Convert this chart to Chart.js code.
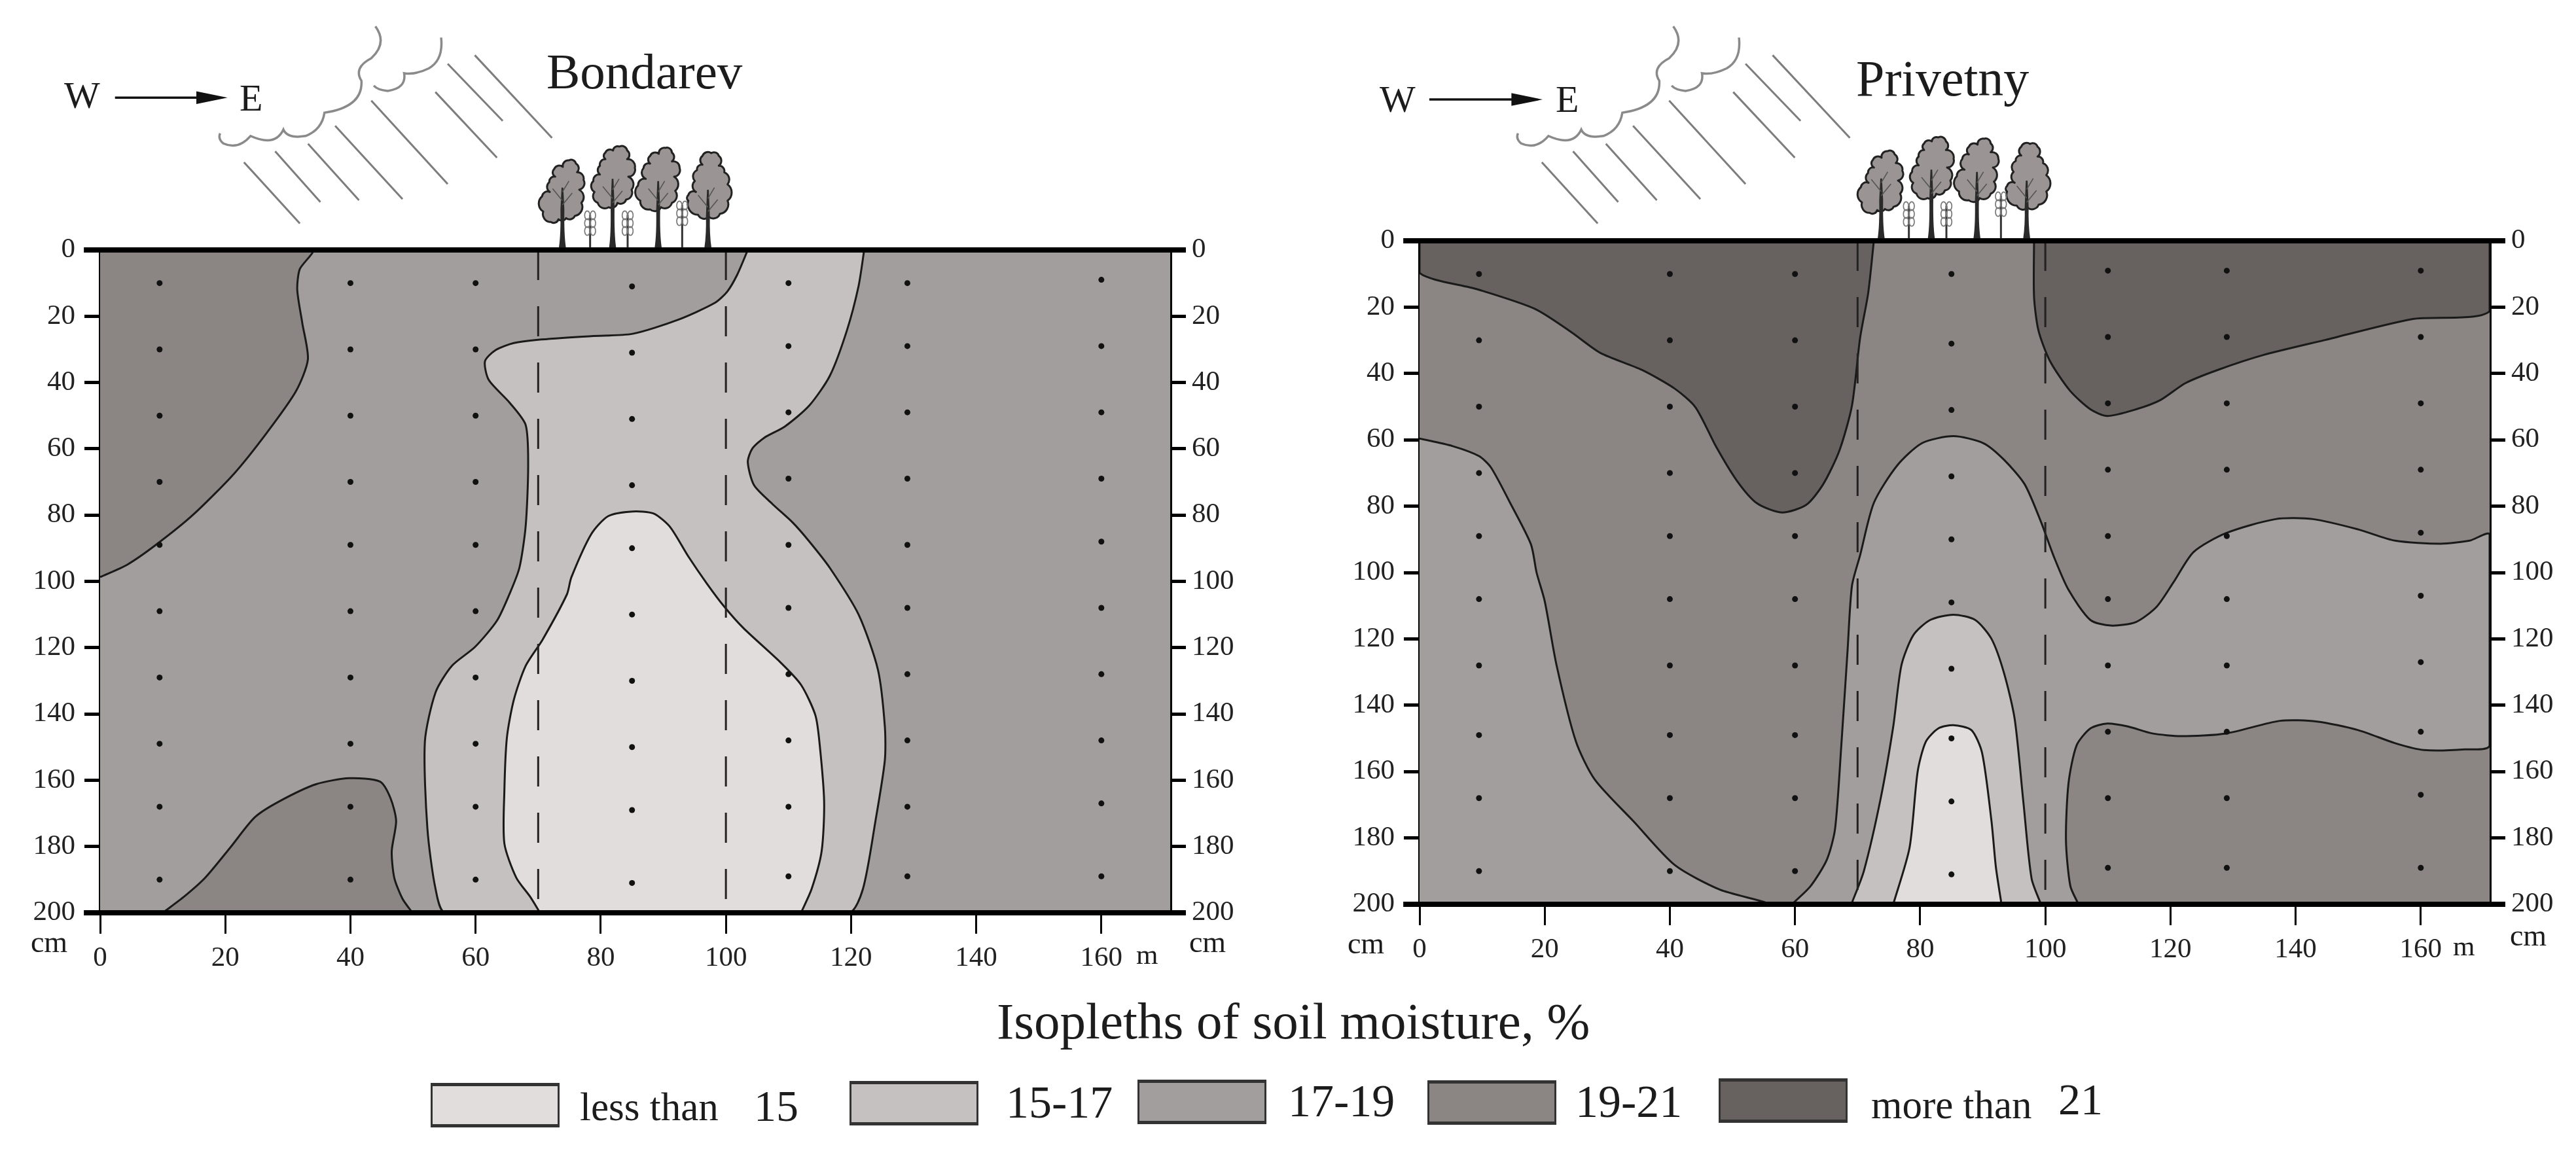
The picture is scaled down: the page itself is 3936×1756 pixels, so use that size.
<!DOCTYPE html>
<html><head><meta charset="utf-8">
<script src="https://cdn.jsdelivr.net/npm/chart.js@4"></script>
<style>
html,body{margin:0;padding:0;background:#fff;width:3936px;height:1756px;overflow:hidden}
canvas,svg.deco{position:absolute}
.t{position:absolute;font-family:"Liberation Serif",serif;color:#1c1c1c;white-space:nowrap;line-height:1;transform:translateY(-50%)}
.box{position:absolute;box-sizing:border-box;border:solid #333;border-width:5px 3px}
</style></head><body>
<canvas id="c1" style="left:0;top:0"></canvas>
<canvas id="c2" style="left:1968px;top:0"></canvas>
<script>
// ---------- categories / axis ticks ----------
const xTicks=[0,20,40,60,80,100,120,140,160];
const depthTicks=[0,20,40,60,80,100,120,140,160,180,200];
const legendLabels=["less than","15-17","17-19","19-21","more than"];
const colLess15="#e2dddd",col15_17="#c6c1c1",col17_19="#a39e9e",col19_21="#8b8584",colMore21="#676260";
const forestEdges=[70,100];
const samplingX=[9.5,40,60,85,110,129,160];

// ---------- Bondarev: isopleth regions [distance m, depth cm] ----------
const bondPlot=[[0,0],[171,0],[171,200],[0,200]];
const bondTop1921=[[0,0],[33.9,0],[31.9,5.8],[31.5,12],[32.3,22],[33.2,33],[31.3,42.6],[26.7,55],[21.4,67.5],[14.8,80],[8.9,89],[4.3,95],[0,98.7]];
const bondBottom1921=[[10,200],[13.5,195],[16.8,189.4],[20.8,180.3],[24.7,171.2],[28.6,166.4],[34.5,161.2],[39.8,159.4],[44.7,160.4],[46.4,165.4],[47.3,172.3],[46.6,181.4],[47,189.4],[48.3,195.7],[49.9,200]];
const bond1517=[[122.1,0],[121.2,10.9],[119.3,24.5],[116.6,38],[113.3,47],[109.4,53.3],[106.1,56.7],[104.2,60],[103.5,64],[104.5,71],[107.4,76.6],[110.7,82.3],[113.3,87.9],[116.6,95.9],[121.2,110],[124.3,126.7],[125.4,143.8],[125.4,154],[123.9,172.3],[121.9,192.8],[119.6,200],[55.2,200],[53.6,192.8],[52.3,174.6],[51.9,148.3],[53.6,133.5],[56.2,125.5],[59.9,119.8],[63.4,111.9],[65.4,103.9],[67,95.9],[68,83.4],[68.4,65.3],[68,52.8],[65.4,46],[62.1,39.2],[61.5,33.6],[63.2,30.2],[66.1,28.1],[70,27.1],[78.5,26],[85.1,25.3],[92.3,21.1],[98.2,16],[100.2,12.6],[101.8,7.5],[103.5,0]];
const bondLess15=[[112,200],[113.7,192.8],[115.3,181.4],[115.7,166.6],[115,149.5],[114.3,140.4],[112,131.2],[108.7,124.4],[102.8,114.1],[99.6,107.3],[96.9,100.5],[94,92.5],[91,83.4],[88.4,79.5],[85.1,78.9],[81.2,80.3],[78.5,85.7],[75.3,98.8],[74.6,103.9],[70.7,117.6],[68,125.5],[66.1,135.8],[65,147.2],[64.6,163.2],[64.6,179.1],[66.5,189.4],[68.7,195.1],[70.3,200]];
const bondDots=[[10,30,50,70,89,109,129,149,168,190],[10,30,50,70,89,109,129,149,168,190],[10,30,50,70,89,109,129,149,168,190],[11,31,51,71,90,110,130,150,169,191],[10,29,49,69,89,108,128,148,168,189],[10,29,49,69,89,108,128,148,168,189],[9,29,49,69,88,108,128,148,167,189]];

// ---------- Privetny: isopleth regions ----------
const privMore21Left=[[0,0],[0,9.7],[9.2,14.6],[18.4,20.5],[24.3,27.6],[28.9,33.8],[35.5,38.9],[40.8,44.6],[44.1,50.2],[47.4,62.1],[50.7,72.3],[53.9,79.1],[57.9,81.9],[61.8,79.6],[64.5,73.4],[67.1,63.2],[69.1,49.7],[70.4,29.3],[71.7,15.7],[72.6,0]];
const privMore21Right=[[98.2,0],[98.2,16.9],[98.9,27],[100.7,36.1],[103.9,45.1],[107.2,50.8],[109.9,52.8],[114.5,50.8],[118.4,48],[122.4,42.9],[127.6,38.9],[134.9,34.4],[144.7,29.9],[158.6,23.6],[171,21.2],[171,0]];
const priv1719Left=[[0,59.6],[5.3,61.9],[9.5,64.9],[11.4,68.3],[14.5,79.1],[17.8,91.5],[18.7,100],[20,108.6],[21.9,128],[25,151],[28,162.4],[34.2,175],[40.8,188.2],[48,195.6],[55.3,199.8],[0,200]];
const priv1719Main=[[59.5,200],[62.5,194.5],[65.1,186.5],[66.4,177.3],[67.4,152.1],[68.4,123.5],[69.1,104],[70.4,94.8],[72.6,79],[76.3,67.8],[80.3,61],[85.3,58.9],[90.1,61],[93.4,66],[96.7,73.4],[99.3,84.7],[101.3,94.9],[103.7,105.2],[107.2,114.3],[110.5,116],[114.5,114.9],[117.8,110.3],[120.5,102.9],[123.7,93.8],[128.9,88.1],[136.8,83.9],[142.8,83.9],[150,87],[155.9,90.4],[163.2,91.3],[167.8,90.4],[171,88.6],[171,152.1],[167,153.3],[160.5,153.5],[156,151.5],[150,147.5],[143.4,144.9],[137.5,144.7],[128.9,148.5],[121.7,149.3],[117.1,148.5],[113.2,146.4],[109.9,145.5],[107.2,147],[105,152.1],[103.7,163.6],[103.3,180.8],[104,194.5],[105.3,200]];
const priv1517=[[69,200],[71,190],[73.7,168],[75.7,146.4],[77,128],[78.9,118.9],[81.6,114.3],[85.3,112.7],[88.8,114.3],[91.4,120],[93.4,130.3],[95.1,144.1],[96.5,169.3],[97.8,192.2],[99.3,200]];
const privLess15=[[75.7,200],[78.3,183],[79.6,160],[80.9,151],[82.9,147],[85.3,146],[88.2,147.5],[89.9,154.4],[91.4,175],[92.1,188.8],[93,200]];
const privDots=[[10,30,50,70,89,108,128,149,168,190],[10,30,50,70,89,108,128,149,168,190],[10,30,50,70,89,108,128,149,168,190],[10,31,51,71,90,109,129,150,169,191],[9,29,49,69,89,108,128,148,168,189],[9,29,49,69,89,108,128,148,168,189],[9,29,49,69,88,107,127,148,167,189]];

const FONT='"Liberation Serif", serif';
const pts=a=>a.map(([x,y])=>({x,y}));
const region=(a,color,stroke=true)=>({data:pts(a),showLine:true,fill:'shape',backgroundColor:color,borderColor:stroke?'#1a1a1a':color,borderWidth:stroke?3:0,pointRadius:0,tension:0.25});
const vline=x=>({data:[{x,y:0},{x,y:200}],showLine:true,borderColor:'#222',borderWidth:3,borderDash:[46,40],pointRadius:0,fill:false});
const ground=y=>({data:[{x:-2.6,y},{x:173.5,y}],showLine:true,borderColor:'#000',borderWidth:8,pointRadius:0,fill:false,clip:false});
const dots=m=>({data:samplingX.flatMap((x,i)=>m[i].map(y=>({x,y}))),showLine:false,pointRadius:4.5,pointBackgroundColor:'#111',pointBorderWidth:0});

function make(id,w,h,L,R,T,B,regions,dotM){
  const cv=document.getElementById(id);cv.width=w;cv.height=h;cv.style.width=w+'px';cv.style.height=h+'px';
  const tickFont={family:FONT,size:43};
  const yAxis=(pos,width,pad)=>({type:'linear',position:pos,display:true,reverse:true,min:0,max:200,z:1,
    afterFit:s=>{s.width=width},
    afterBuildTicks:s=>{s.ticks=depthTicks.map(value=>({value}))},
    border:{display:true,color:'#000',width:5},
    grid:{display:true,drawOnChartArea:false,drawTicks:true,tickLength:24,tickWidth:5,tickColor:'#000'},
    ticks:{color:'#222',font:tickFont,padding:pad,autoSkip:false,maxRotation:0}});
  new Chart(cv,{type:'scatter',data:{datasets:[
      dots(dotM),ground(0),ground(200),...forestEdges.map(vline),...regions]},
    options:{responsive:false,animation:false,devicePixelRatio:1,
      layout:{padding:{left:0,right:0,top:T,bottom:0}},
      plugins:{legend:{display:false},tooltip:{enabled:false},title:{display:false}},
      scales:{
        x:{type:'linear',min:0,max:171,position:'bottom',z:1,
          afterFit:s=>{s.height=h-B},
          afterBuildTicks:s=>{s.ticks=xTicks.map(value=>({value}))},
          border:{display:false},
          grid:{display:true,drawOnChartArea:false,drawTicks:true,tickLength:32,tickWidth:3,tickColor:'#000'},
          ticks:{color:'#222',font:tickFont,padding:12,autoSkip:false,maxRotation:0}},
        y:yAxis('left',L,14),
        y2:yAxis('right',w-R,9)
      }}});
}
make('c1',1968,1500,153,1788,382,1395,[
  region(bondLess15,colLess15),region(bond1517,col15_17),
  region(bondTop1921,col19_21),region(bondBottom1921,col19_21),
  region(bondPlot,col17_19,false)],bondDots);
make('c2',1968,1500,201,1836,368,1382,[
  region(privLess15,colLess15),region(priv1517,col15_17),
  region(priv1719Main,col17_19),region(priv1719Left,col17_19),
  region(privMore21Left,colMore21),region(privMore21Right,colMore21),
  region(bondPlot,col19_21,false)],privDots);

// ---------- text ----------
function text(s,x,y,size,anchor){const d=document.createElement('div');d.className='t';d.textContent=s;d.style.fontSize=size+'px';d.style.top=y+'px';
  if(anchor==='c'){d.style.left=x+'px';d.style.transform='translate(-50%,-50%)'}else d.style.left=x+'px';document.body.appendChild(d);return d}
text("Bondarev",835,109,77);text("Privetny",2836,120,78);
text("W",98,146,58);text("E",366,150,58);text("W",2108,152,58);text("E",2377,152,58);
text("cm",75,1440,46,'c');text("cm",1845,1440,46,'c');text("cm",2087,1442,46,'c');text("cm",3863,1430,46,'c');
text("m",1736,1458,43);text("m",3748,1445,43);
text("Isopleths of soil moisture, %",1523,1560,79);
const boxes=[[658,1655,colLess15],[1298,1652,col15_17],[1738,1650,col17_19],[2181,1651,col19_21],[2626,1648,colMore21]];
boxes.forEach(([x,y,c])=>{const b=document.createElement('div');b.className='box';b.style.cssText=`left:${x}px;top:${y}px;width:197px;height:68px;background:${c}`;document.body.appendChild(b)});
text(legendLabels[0],886,1691,61);text("15",1152,1690,68);
text(legendLabels[1],1537,1685,70);text(legendLabels[2],1968,1683,70);text(legendLabels[3],2407,1684,70);
text(legendLabels[4],2859,1688,61);text("21",3145,1680,68);

// ---------- illustration (cloud, rain, wind arrow) ----------
function deco(offX,dx,ax0,ax1,ay){
  const rain=[[297,432,365,595],[335,403,390,538],[375,383,437,533],[408,335,490,530],[452,268,545,490],[530,245,605,420],[545,170,612,322],[578,147,672,367]];
  let s=`<svg class="deco" style="left:${offX}px;top:0" width="1968" height="900" viewBox="0 0 1568 1568" preserveAspectRatio="none" xmlns="http://www.w3.org/2000/svg">`;
  const nss='vector-effect="non-scaling-stroke"';
  rain.forEach(r=>{s+=`<line x1="${r[0]+dx}" y1="${r[1]}" x2="${r[2]+dx}" y2="${r[3]}" stroke="#7d7d7d" stroke-width="3" ${nss}/>`});
  const c1=`M${457+dx} 70 Q${472+dx} 115 ${452+dx} 155 Q${430+dx} 180 ${440+dx} 215 Q${442+dx} 285 ${395+dx} 300 Q${392+dx} 345 ${372+dx} 362 Q${350+dx} 370 ${345+dx} 345 Q${335+dx} 392 ${305+dx} 362 Q${290+dx} 400 ${272+dx} 382 Q${265+dx} 370 ${268+dx} 355`;
  const c2=`M${537+dx} 100 Q${540+dx} 160 ${522+dx} 182 Q${505+dx} 200 ${492+dx} 195 Q${495+dx} 235 ${472+dx} 242 Q${460+dx} 240 ${455+dx} 228`;
  s+=`<path d="${c1}" fill="none" stroke="#8a8a8a" stroke-width="3.5" ${nss}/><path d="${c2}" fill="none" stroke="#8a8a8a" stroke-width="3.5" ${nss}/>`;
  s+=`<line x1="${ax0}" y1="${ay}" x2="${ax1-30}" y2="${ay}" stroke="#111" stroke-width="3.5" ${nss}/><polygon points="${ax1-38},${ay-17} ${ax1},${ay} ${ax1-38},${ay+17}" fill="#111"/>`;
  s+='</svg>';
  document.body.insertAdjacentHTML('beforeend',s);
}
// trees: scalloped outlines, in a uniform 3x sketch space
function lobes(o){let p=`M${o[0][0]} ${o[0][1]}`;for(let i=1;i<=o.length;i++){const a=o[i-1],b=o[i%o.length];const r=Math.hypot(b[0]-a[0],b[1]-a[1])*0.62;p+=` A${r} ${r} 0 0 1 ${b[0]} ${b[1]}`}return p+'Z'}
function treesSvg(left,top){
  const outlines=[
   [[178,105],[210,120],[215,160],[245,195],[225,240],[235,300],[205,360],[165,370],[130,375],[95,388],[60,340],[55,270],[90,250],[88,205],[115,180],[110,145],[150,135]],
   [[410,42],[445,60],[445,100],[480,140],[450,180],[465,240],[440,285],[400,300],[360,320],[310,300],[295,250],[290,200],[320,170],[320,130],[345,100],[345,70],[380,60]],
   [[620,48],[650,70],[650,110],[685,140],[660,180],[665,245],[650,300],[600,320],[550,330],[505,290],[495,220],[530,190],[520,140],[550,120],[550,85],[590,75]],
   [[830,72],[865,85],[865,130],[890,160],[905,215],[905,290],[870,350],[820,365],[770,355],[725,290],[725,265],[760,250],[755,200],[765,150],[790,125],[790,85]]];
  const trunks=[[148,230,505,270],[378,190,505,260],[587,200,505,270],[815,240,505,300]];
  const shrubs=[[275,335],[447,335],[697,290]];
  let s=`<svg class="deco" style="left:${left}px;top:${top}px" width="320" height="190" viewBox="0 0 960 570" xmlns="http://www.w3.org/2000/svg">`;
  outlines.forEach((o,i)=>{s+=`<path d="${lobes(o)}" fill="#9a9594" stroke="#222" stroke-width="9" stroke-linejoin="round"/>`;
    const [x,t,b,m]=trunks[i];
    s+=`<path d="M${x-16} ${b} Q${x-7} ${b-60} ${x-9} ${m+60} L${x-4} ${t} L${x+4} ${t} L${x+9} ${m+60} Q${x+7} ${b-60} ${x+16} ${b}Z" fill="#2a2a2a"/>`;
    s+=`<path d="M${x} ${m+40} L${x+45} ${m-15} M${x} ${m+20} L${x-45} ${m-35} M${x} ${m-20} L${x+30} ${m-70}" stroke="#555" stroke-width="5" fill="none"/>`;
  });
  shrubs.forEach(([x,t])=>{
    s+=`<line x1="${x}" y1="${t+20}" x2="${x}" y2="505" stroke="#333" stroke-width="9"/>`;
    for(let k=0;k<3;k++){const y=t+22+k*36;
      s+=`<ellipse cx="${x-13}" cy="${y}" rx="12" ry="20" fill="none" stroke="#777" stroke-width="5"/><ellipse cx="${x+13}" cy="${y}" rx="12" ry="20" fill="none" stroke="#777" stroke-width="5"/>`}
  });
  s+='</svg>';document.body.insertAdjacentHTML('beforeend',s);
}
deco(0,0,140,277,260);
deco(1968,12,172,310,265);
treesSvg(810,210);
treesSvg(2825,196);
</script>
</body></html>
